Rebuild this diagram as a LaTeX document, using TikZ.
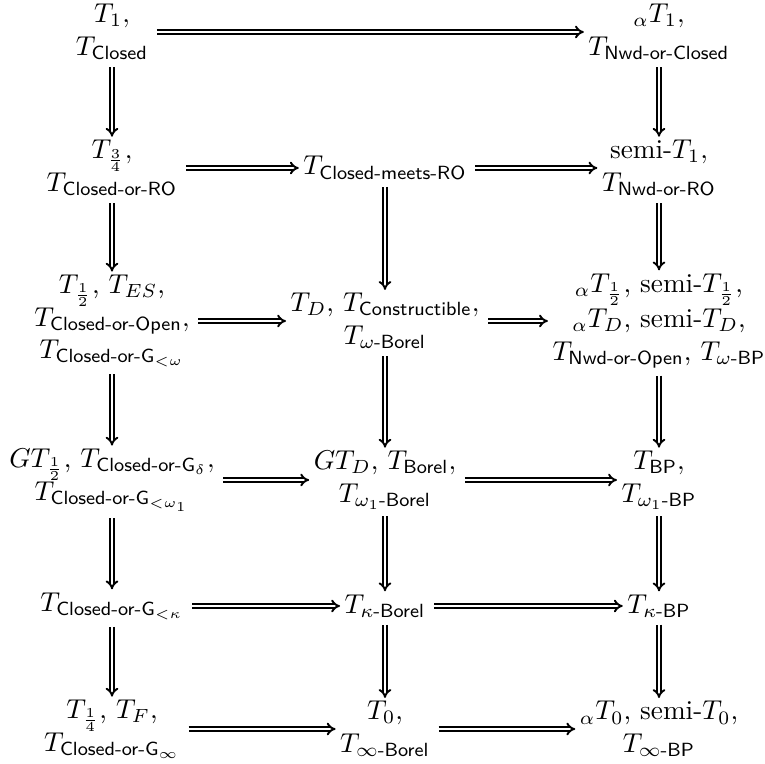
\documentclass[tikz,border=0pt]{standalone}
\usepackage{amsmath}
\usetikzlibrary{arrows.meta}
\begin{document}
\begin{tikzpicture}[x=0.367pt,y=-0.367pt,
  cell/.style={align=center,inner xsep=3pt,inner ysep=2.5pt},
  impl/.style={double,double distance=0.8pt,line width=0.7pt,-{Implies},shorten >=-1.5pt}]
\useasboundingbox (0,0) rectangle (765,764);
\def\cA{112}\def\cB{385}\def\cC{659}
% row 1
\node[cell] (a1) at (\cA,32) {$T_1,$\\$T_{\textsf{Closed}}$};
\node[cell] (c1) at (\cC,32) {${}_{\alpha}T_1,$\\$T_{\textsf{Nwd-or-Closed}}$};
% row 2
\node[cell] (a2) at (\cA,168) {$T_{\frac34},$\\$T_{\textsf{Closed-or-RO}}$};
\node[cell] (b2) at (\cB,168) {$T_{\textsf{Closed-meets-RO}}$};
\node[cell] (c2) at (\cC,168) {semi-$T_1,$\\$T_{\textsf{Nwd-or-RO}}$};
% row 3
\node[cell] (a3) at (\cA,321) {$T_{\frac12}$, $T_{ES}$,\\$T_{\textsf{Closed-or-Open}},$\\$T_{\textsf{Closed-or-G}_{<\omega}}$};
\node[cell] (b3) at (\cB,321) {$T_D$, $T_{\textsf{Constructible}},$\\$T_{\omega\textsf{-Borel}}$};
\node[cell] (c3) at (\cC,321) {${}_{\alpha}T_{\frac12}$, semi-$T_{\frac12}$,\\[1pt]${}_{\alpha}T_D$, semi-$T_D$,\\$T_{\textsf{Nwd-or-Open}}$, $T_{\omega\textsf{-BP}}$};
% row 4
\node[cell] (a4) at (\cA,480) {$GT_{\frac12}$, $T_{\textsf{Closed-or-G}_{\delta}},$\\$T_{\textsf{Closed-or-G}_{<\omega_1}}$};
\node[cell] (b4) at (\cB,480) {$GT_D$, $T_{\textsf{Borel}},$\\$T_{\omega_1\textsf{-Borel}}$};
\node[cell] (c4) at (\cC,480) {$T_{\textsf{BP}},$\\$T_{\omega_1\textsf{-BP}}$};
% row 5
\node[cell] (a5) at (\cA,606) {$T_{\textsf{Closed-or-G}_{<\kappa}}$};
\node[cell] (b5) at (\cB,606) {$T_{\kappa\textsf{-Borel}}$};
\node[cell] (c5) at (\cC,606) {$T_{\kappa\textsf{-BP}}$};
% row 6
\node[cell] (a6) at (\cA,729) {$T_{\frac14}$, $T_F$,\\$T_{\textsf{Closed-or-G}_{\infty}}$};
\node[cell] (b6) at (\cB,729) {$T_0,$\\$T_{\infty\textsf{-Borel}}$};
\node[cell] (c6) at (\cC,729) {${}_{\alpha}T_0$, semi-$T_0$,\\$T_{\infty\textsf{-BP}}$};
% horizontal arrows
\draw[impl] (a1) -- (c1);
\draw[impl] (a2) -- (b2);
\draw[impl] (b2) -- (c2);
\draw[impl] (a3) -- (b3);
\draw[impl] (b3) -- (c3);
\draw[impl] (a4) -- (b4);
\draw[impl] (b4) -- (c4);
\draw[impl] (a5) -- (b5);
\draw[impl] (b5) -- (c5);
\draw[impl] (a6) -- (b6);
\draw[impl] (b6) -- (c6);
% vertical arrows
\draw[impl] (a1) -- (a2);
\draw[impl] (a2) -- (a3);
\draw[impl] (a3) -- (a4);
\draw[impl] (a4) -- (a5);
\draw[impl] (a5) -- (a6);
\draw[impl] (b2) -- (b3);
\draw[impl] (b3) -- (b4);
\draw[impl] (b4) -- (b5);
\draw[impl] (b5) -- (b6);
\draw[impl] (c1) -- (c2);
\draw[impl] (c2) -- (c3);
\draw[impl] (c3) -- (c4);
\draw[impl] (c4) -- (c5);
\draw[impl] (c5) -- (c6);
\end{tikzpicture}
\end{document}
